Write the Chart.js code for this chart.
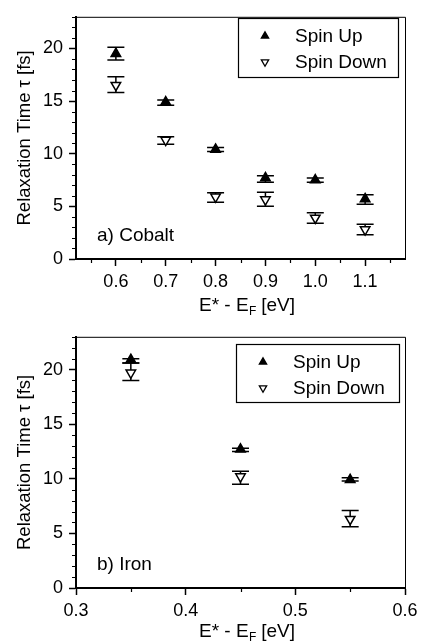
<!DOCTYPE html>
<html lang="en">
<head>
<meta charset="UTF-8" />
<title>Relaxation Time</title>
<style>
  body { margin: 0; background: #fff; }
  canvas { display: block; }
</style>
</head>
<body>
<canvas id="cobaltChart" width="423" height="320"></canvas>
<canvas id="ironChart" width="423" height="321"></canvas>
<script src="https://cdn.jsdelivr.net/npm/chart.js"></script>
<script>
// a) Cobalt
const cobaltEnergy = [0.6, 0.7, 0.8, 0.9, 1.0, 1.1];
const cobaltUp = [19.5, 14.9, 10.4, 7.7, 7.5, 5.7];
const cobaltUpLow = [18.9, 14.6, 10.2, 7.3, 7.3, 5.2];
const cobaltUpHigh = [20.1, 15.1, 10.6, 7.9, 7.7, 6.1];
const cobaltDown = [16.5, 11.3, 5.9, 5.65, 3.9, 2.8];
const cobaltDownLow = [15.8, 10.9, 5.4, 5.0, 3.4, 2.3];
const cobaltDownHigh = [17.3, 11.6, 6.3, 6.35, 4.4, 3.3];

// b) Iron
const ironEnergy = [0.35, 0.45, 0.55];
const ironUp = [20.9, 12.7, 9.9];
const ironUpLow = [20.6, 12.5, 9.8];
const ironUpHigh = [21.0, 12.8, 10.1];
const ironDown = [19.7, 10.2, 6.3];
const ironDownLow = [19.0, 9.5, 5.6];
const ironDownHigh = [20.6, 10.7, 7.1];

const seriesNames = ["Spin Up", "Spin Down"];
const yTicks = [0, 5, 10, 15, 20];

const FONT = "'Liberation Sans', Arial, Helvetica, sans-serif";

const toPoints = (xs, ys) => xs.map((x, i) => ({ x: x, y: ys[i] }));

// error bars drawn under the markers
const errorBars = {
  id: "errorBars",
  beforeDatasetsDraw(chart) {
    const ctx = chart.ctx;
    const yScale = chart.scales.y;
    ctx.save();
    ctx.strokeStyle = "#000";
    ctx.lineWidth = 1.5;
    chart.data.datasets.forEach((ds, i) => {
      const meta = chart.getDatasetMeta(i);
      meta.data.forEach((pt, j) => {
        const yl = yScale.getPixelForValue(ds.errLow[j]);
        const yh = yScale.getPixelForValue(ds.errHigh[j]);
        ctx.beginPath();
        ctx.moveTo(pt.x, yl);
        ctx.lineTo(pt.x, yh);
        ctx.moveTo(pt.x - 8.5, yl);
        ctx.lineTo(pt.x + 8.5, yl);
        ctx.moveTo(pt.x - 8.5, yh);
        ctx.lineTo(pt.x + 8.5, yh);
        ctx.stroke();
      });
    });
    ctx.restore();
  },
};

// minor ticks, frame, legend box, panel label, x title with subscript
const decor = {
  id: "decor",
  afterDraw(chart, args, opts) {
    const ctx = chart.ctx;
    const { left, right, top, bottom } = chart.chartArea;
    const xs = chart.scales.x;
    const ys = chart.scales.y;
    ctx.save();
    ctx.strokeStyle = "#000";

    // top + right border
    ctx.lineWidth = 1;
    ctx.beginPath();
    ctx.moveTo(left, top + 0.5);
    ctx.lineTo(right + 0.5, top + 0.5);
    ctx.lineTo(right + 0.5, bottom);
    ctx.stroke();

    // minor ticks
    ctx.lineWidth = 1.2;
    ctx.beginPath();
    for (let k = 1; k * opts.yMinor <= ys.max; k++) {
      if (k % 5 === 0) continue;
      const py = Math.round(ys.getPixelForValue(k * opts.yMinor)) + 0.5;
      ctx.moveTo(left - 4, py);
      ctx.lineTo(left, py);
    }
    opts.xMinor.forEach((v) => {
      const px = Math.round(xs.getPixelForValue(v)) + 0.5;
      ctx.moveTo(px, bottom);
      ctx.lineTo(px, bottom + 4);
    });
    ctx.stroke();

    // legend box
    const lb = opts.legend;
    ctx.lineWidth = 1.2;
    ctx.strokeRect(lb.x + 0.5, lb.y + 0.5, lb.w, lb.h);
    ctx.font = "19px " + FONT;
    ctx.textBaseline = "middle";
    ctx.textAlign = "left";
    chart.data.datasets.forEach((ds, i) => {
      const cy = lb.y + lb.row0 + i * lb.rowGap;
      ctx.fillStyle = ds.backgroundColor;
      ctx.strokeStyle = "#000";
      ctx.lineWidth = 1.3;
      Chart.helpers.drawPoint(
        ctx,
        { pointStyle: "triangle", radius: 4.2, rotation: ds.pointRotation || 0, borderWidth: 1.3 },
        lb.x + lb.marker,
        cy
      );
      ctx.fillStyle = "#000";
      ctx.fillText(ds.label, lb.x + lb.text, cy + 1);
    });

    // panel label
    ctx.fillText(opts.label, opts.labelX, opts.labelY);

    // x axis title: E* - E_F [eV]
    const a = "E* - E";
    const sub = "F";
    const b = " [eV]";
    ctx.font = "19px " + FONT;
    const wa = ctx.measureText(a).width;
    const wb = ctx.measureText(b).width;
    ctx.font = "12px " + FONT;
    const ws = ctx.measureText(sub).width;
    let x0 = opts.titleX - (wa + ws + wb) / 2;
    ctx.font = "19px " + FONT;
    ctx.fillText(a, x0, opts.titleY);
    ctx.font = "12px " + FONT;
    ctx.fillText(sub, x0 + wa + 0.5, opts.titleY + 6);
    ctx.font = "19px " + FONT;
    ctx.fillText(b, x0 + wa + ws, opts.titleY);
    ctx.restore();
  },
};

function makeChart(id, energy, up, upLow, upHigh, down, downLow, downHigh, cfg) {
  return new Chart(document.getElementById(id), {
    type: "scatter",
    data: {
      datasets: [
        {
          label: seriesNames[0],
          data: toPoints(energy, up),
          errLow: upLow,
          errHigh: upHigh,
          pointStyle: "triangle",
          pointRadius: 5.5,
          backgroundColor: "#000",
          borderColor: "#000",
          borderWidth: 1.5,
        },
        {
          label: seriesNames[1],
          data: toPoints(energy, down),
          errLow: downLow,
          errHigh: downHigh,
          pointStyle: "triangle",
          pointRotation: 180,
          pointRadius: 5.5,
          backgroundColor: "#fff",
          borderColor: "#000",
          borderWidth: 1.5,
        },
      ],
    },
    options: {
      responsive: false,
      animation: false,
      events: [],
      layout: { padding: { top: cfg.padTop, right: cfg.padRight, left: 0, bottom: 0 } },
      scales: {
        x: {
          type: "linear",
          min: cfg.xMin,
          max: cfg.xMax,
          afterFit(scale) {
            scale.height = cfg.xHeight;
          },
          ticks: {
            stepSize: 0.1,
            includeBounds: false,
            color: "#000",
            font: { family: FONT, size: 18 },
            padding: 5,
            maxRotation: 0,
            callback: (v) => Number(v).toFixed(1),
          },
          grid: { drawOnChartArea: false, tickLength: 7, tickColor: "#000", tickWidth: 1.5 },
          border: { color: "#000", width: 2 },
        },
        y: {
          min: 0,
          max: 23,
          afterFit(scale) {
            scale.width = 76;
          },
          afterBuildTicks(scale) {
            scale.ticks = yTicks.map((v) => ({ value: v }));
          },
          ticks: {
            color: "#000",
            font: { family: FONT, size: 18 },
            padding: 6,
          },
          grid: { drawOnChartArea: false, tickLength: 7, tickColor: "#000", tickWidth: 1.5 },
          border: { color: "#000", width: 2 },
          title: {
            display: true,
            text: "Relaxation Time τ [fs]",
            color: "#000",
            font: { family: FONT, size: 18.5 },
            padding: { top: 14, bottom: 0 },
          },
        },
      },
      plugins: {
        legend: { display: false },
        tooltip: { enabled: false },
        decor: cfg.decor,
      },
    },
    plugins: [errorBars, decor],
  });
}

makeChart("cobaltChart", cobaltEnergy, cobaltUp, cobaltUpLow, cobaltUpHigh,
  cobaltDown, cobaltDownLow, cobaltDownHigh, {
    padTop: 7, padRight: 18, xMin: 0.52, xMax: 1.18, xHeight: 61,
    decor: {
      yMinor: 1,
      xMinor: [0.55, 0.65, 0.75, 0.85, 0.95, 1.05, 1.15],
      legend: { x: 238, y: 18, w: 160, h: 59, row0: 18, rowGap: 26, marker: 27, text: 57 },
      label: "a) Cobalt", labelX: 97, labelY: 236,
      titleX: 247, titleY: 306,
    },
  });

makeChart("ironChart", ironEnergy, ironUp, ironUpLow, ironUpHigh,
  ironDown, ironDownLow, ironDownHigh, {
    padTop: 16, padRight: 18, xMin: 0.3, xMax: 0.6, xHeight: 53,
    decor: {
      yMinor: 1,
      xMinor: [0.35, 0.45, 0.55],
      legend: { x: 236, y: 24, w: 163, h: 58, row0: 18, rowGap: 26, marker: 27, text: 57 },
      label: "b) Iron", labelX: 97, labelY: 245,
      titleX: 247, titleY: 312,
    },
  });
</script>
</body>
</html>
